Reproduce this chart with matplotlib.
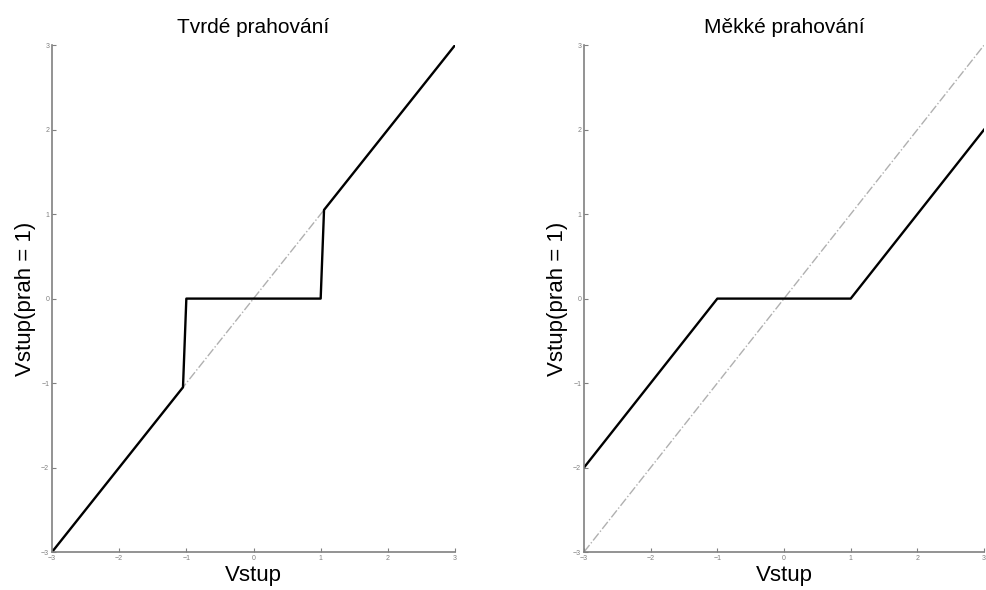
import matplotlib
matplotlib.use("Agg")
import matplotlib.pyplot as plt

plt.rcParams["font.family"] = ["Liberation Sans", "DejaVu Sans"]

# identity reference
ref_x = [-3, 3]
ref_y = [-3, 3]

# hard thresholding (sampled, so jumps are slightly slanted)
hard_x = [-3, -1.05, -1.0, 1.0, 1.05, 3]
hard_y = [-3, -1.05, 0, 0, 1.05, 3]

# soft thresholding
soft_x = [-3, -1, 1, 3]
soft_y = [-2, 0, 0, 2]

ticks = [-3, -2, -1, 0, 1, 2, 3]
titles = ["Tvrdé prahování", "Měkké prahování"]
xlabel = "Vstup"
ylabel = "Vstup(prah = 1)"

fig = plt.figure(figsize=(9.87, 5.9), dpi=100)
ax1 = fig.add_axes([0.0527, 0.0644, 0.4083, 0.859])
ax2 = fig.add_axes([0.5917, 0.0644, 0.4053, 0.859])

for ax, (xs, ys), title in zip([ax1, ax2], [(hard_x, hard_y), (soft_x, soft_y)], titles):
    ax.plot(ref_x, ref_y, color="#b0b0b0", lw=1.0, ls="-.", zorder=1)
    ax.plot(xs, ys, color="black", lw=1.7, zorder=2)
    ax.set_xlim(-3, 3)
    ax.set_ylim(-3, 3)
    ax.set_xticks(ticks)
    ax.set_yticks(ticks)
    ax.tick_params(direction="in", length=3, width=0.8, colors="#808080",
                   labelsize=5, pad=2)
    for s in ["top", "right"]:
        ax.spines[s].set_visible(False)
    for s in ["left", "bottom"]:
        ax.spines[s].set_color("#808080")
        ax.spines[s].set_linewidth(1.2)
    ax.set_title(title, fontsize=15, pad=9)
    ax.set_xlabel(xlabel, fontsize=16, labelpad=2)
    ax.set_ylabel(ylabel, fontsize=16, labelpad=4)

fig.savefig("out.png", dpi=100)
